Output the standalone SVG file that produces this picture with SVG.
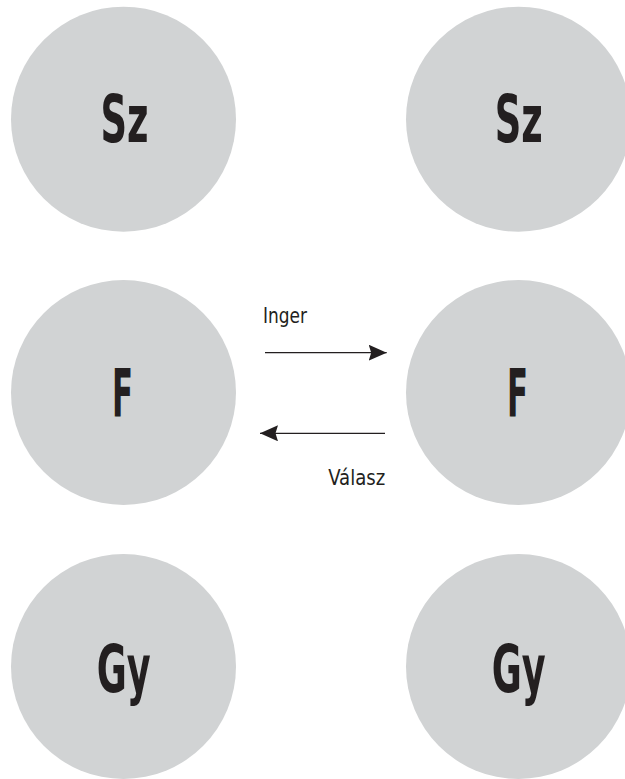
<svg xmlns="http://www.w3.org/2000/svg" width="625" height="779" viewBox="0 0 625 779">
  <style>
    .node circle { fill: #d1d3d4; }
    .big { font-family: "Liberation Sans Narrow", "DejaVu Sans Condensed", "Liberation Sans", sans-serif; font-weight: bold; font-size: 65px; fill: #231f20; text-anchor: middle; }
    .lbl { font-family: "Liberation Sans Narrow", "DejaVu Sans Condensed", "Liberation Sans", sans-serif; font-size: 21px; fill: #231f20; }
    .conn { stroke: #231f20; stroke-width: 1.3; fill: none; marker-end: url(#head); }
  </style>
  <defs>
    <marker id="head" markerUnits="userSpaceOnUse" orient="auto" viewBox="-18 -8 18 16" refX="0" refY="0" markerWidth="18" markerHeight="16">
      <path d="M0,0 L-18,-8 L-15.5,0 L-18,8 Z" fill="#231f20"/>
    </marker>
  </defs>

  <rect width="625" height="779" fill="#ffffff"/>

  <!-- left column -->
  <g id="sz-left" class="node">
    <circle cx="123.5" cy="119.2" r="112.5"/>
    <text class="big" x="124.5" y="141.7" textLength="48" lengthAdjust="spacingAndGlyphs">Sz</text>
  </g>
  <g id="f-left" class="node">
    <circle cx="123.5" cy="392.5" r="112.5"/>
    <text class="big" x="122.5" y="415.7" textLength="21" lengthAdjust="spacingAndGlyphs">F</text>
  </g>
  <g id="gy-left" class="node">
    <circle cx="123.5" cy="666.5" r="112.5"/>
    <text class="big" x="123.7" y="692" textLength="54" lengthAdjust="spacingAndGlyphs">Gy</text>
  </g>

  <!-- right column -->
  <g id="sz-right" class="node">
    <circle cx="518.5" cy="119.2" r="112.5"/>
    <text class="big" x="518.7" y="141.7" textLength="48" lengthAdjust="spacingAndGlyphs">Sz</text>
  </g>
  <g id="f-right" class="node">
    <circle cx="518.5" cy="392.5" r="112.5"/>
    <text class="big" x="517.5" y="415.7" textLength="21" lengthAdjust="spacingAndGlyphs">F</text>
  </g>
  <g id="gy-right" class="node">
    <circle cx="518.5" cy="666.5" r="112.5"/>
    <text class="big" x="518.7" y="692" textLength="54" lengthAdjust="spacingAndGlyphs">Gy</text>
  </g>

  <!-- connectors between the two F nodes -->
  <g id="connectors">
    <path class="conn" d="M265,352.7 L386.7,352.7"/>
    <text class="lbl" x="263" y="323" textLength="44" lengthAdjust="spacingAndGlyphs">Inger</text>
    <path class="conn" d="M385,433.3 L260,433.3"/>
    <text class="lbl" x="328.3" y="485" textLength="57" lengthAdjust="spacingAndGlyphs">Válasz</text>
  </g>
</svg>
